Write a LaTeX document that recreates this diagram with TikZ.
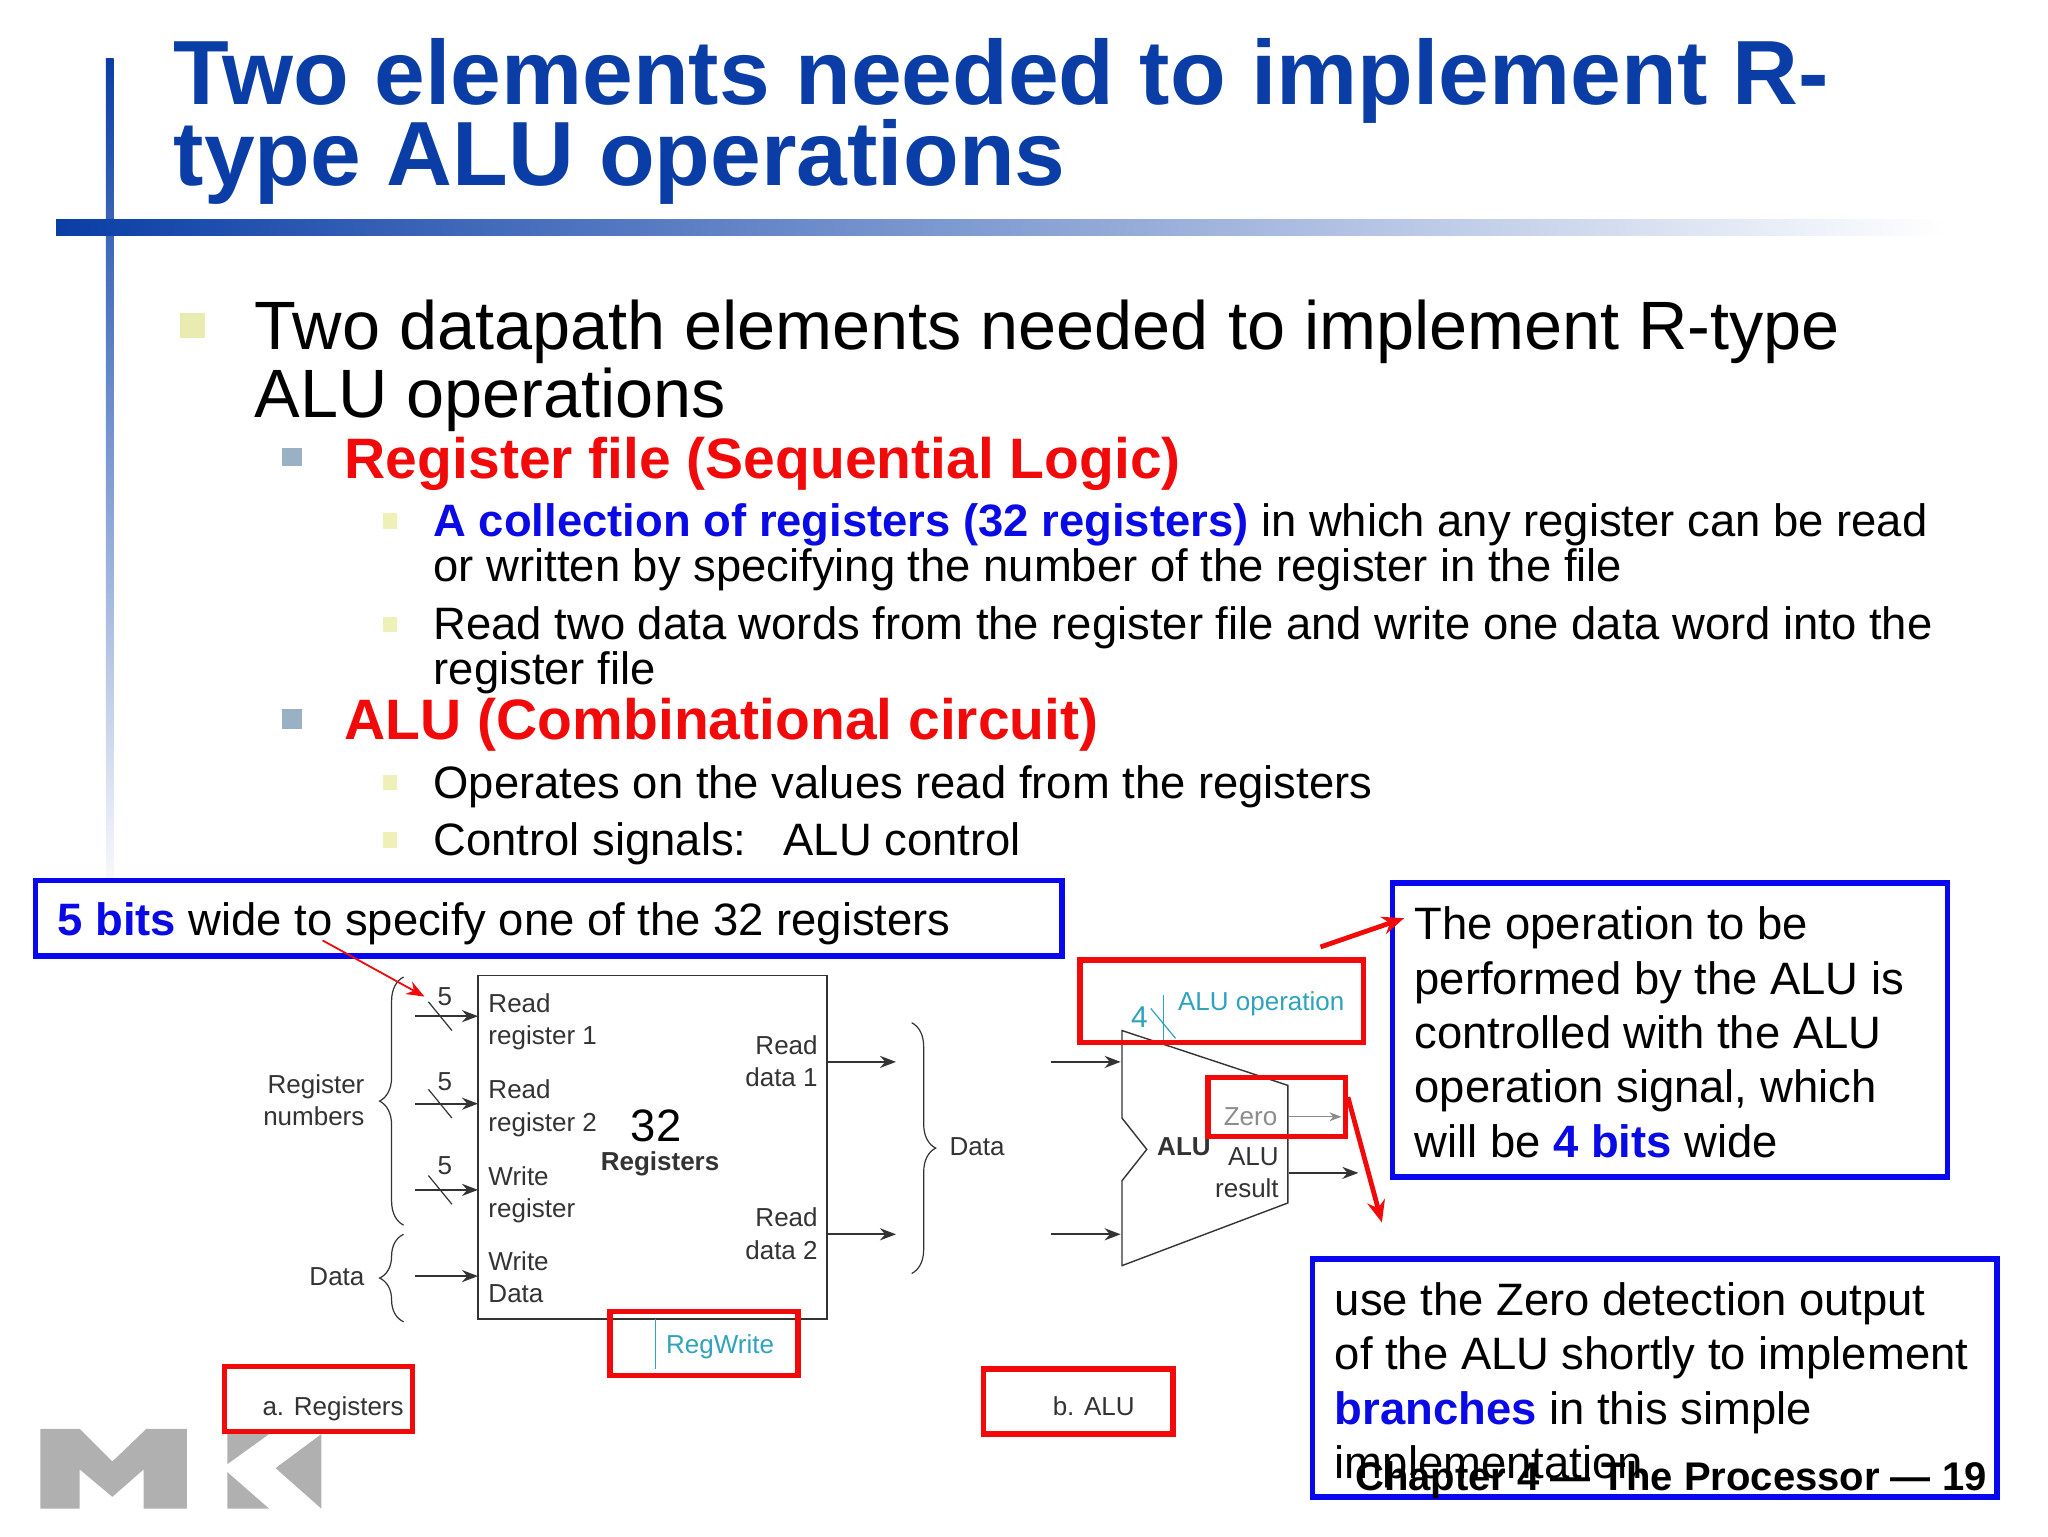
\documentclass[tikz,border=0pt]{standalone}
\usepackage{fontspec}
\setmainfont{Liberation Sans}
\usetikzlibrary{arrows.meta,decorations.pathreplacing,calc}
\definecolor{titleblue}{HTML}{0A3EA6}
\definecolor{vivblue}{HTML}{0A0AE6}
\definecolor{boxblue}{HTML}{0808F0}
\definecolor{vivred}{HTML}{F20A0A}
\definecolor{teal1}{HTML}{2FA3BD}
\definecolor{dark}{HTML}{333333}
\definecolor{bulA}{HTML}{E9EBB0}
\definecolor{bulB}{HTML}{9AB0C4}
\definecolor{bulC}{HTML}{EEF0B8}
\definecolor{logo}{HTML}{B0B0B0}
\newcommand{\fs}[2]{\fontsize{#1}{#2}\selectfont}
\newcommand{\bl}[1]{\textcolor{vivblue}{\textbf{#1}}}
\newcommand{\titlefnt}{\setlength{\lineskiplimit}{-30pt}\fs{45.6}{40.5}\bfseries}
\tikzset{
  txt/.style={inner sep=0pt,outer sep=0pt,anchor=base west,align=left},
  txtr/.style={inner sep=0pt,outer sep=0pt,anchor=base east,align=right},
  titletxt/.style={txt,text=titleblue,font=\titlefnt},
  lone/.style={txt,font=\fs{34.2}{34}},
  ltwo/.style={txt,text=vivred,font=\fs{28.5}{30}\bfseries},
  lthree/.style={txt,font=\fs{22.7}{22.5}},
  call/.style={txt,font=\fs{22.7}{27.2}},
  small/.style={txt,font=\fs{13}{16.1},text=dark},
  smallr/.style={txtr,font=\fs{13}{16.1},text=dark},
  bluebox/.style={draw=boxblue,line width=2.7pt},
  redbox/.style={draw=vivred,line width=2.7pt},
  wire/.style={draw=dark,line width=1.1pt,-{Stealth[length=8pt,width=6pt]}},
  slash/.style={draw=dark,line width=0.6pt},
  bracestyle/.style={draw=dark,line width=0.6pt,decorate},
  redthin/.style={draw=vivred,line width=0.9pt,-{Stealth[length=9pt,width=7pt]}},
  redthick/.style={draw=vivred,line width=2.4pt,-{Stealth[length=11pt,width=9pt]}},
}
\begin{document}
\begin{tikzpicture}[x=0.65306pt,y=-0.65306pt]
\useasboundingbox (0,0) rectangle (1568,1176);
\fill[white] (0,0) rectangle (1568,1176);
% decoration bars
\shade[top color=titleblue,bottom color=titleblue!3] (81,45) rectangle (87,675);
\shade[left color=titleblue,right color=white] (43,168) rectangle (1490,180);
% title
\node[titletxt] (title) at (133,142) {Two elements needed to implement R-\\type ALU operations};
% bullets
\fill[bulA] (138,240) rectangle (157,259);
\fill[bulB] (216,343) rectangle (231,357);
\fill[bulB] (216,543) rectangle (231,558);
\foreach \yy in {393,472,593,637} \fill[bulC] (293,\yy) rectangle (304,\yy+12);
% body
\node[lone] (b1) at (195,320) {Two datapath elements needed to implement R-type\\ALU operations};
\node[ltwo] (b2) at (264,366) {Register file (Sequential Logic)};
\node[lthree] (b3) at (332,445) {\bl{A collection of registers (32 registers)} in which any register can be read\\or written by specifying the number of the register in the file};
\node[lthree] (b4) at (332,524) {Read two data words from the register file and write one data word into the\\register file};
\node[ltwo] (b5) at (264,566) {ALU (Combinational circuit)};
\node[lthree] (b6) at (332,611) {Operates on the values read from the registers};
\node[lthree] (b7) at (332,655) {Control signals:\hspace{0.82em}ALU control};
% 5 bits box
\draw[bluebox] (27,674) rectangle (813,732);
\node[lthree] (fivebits) at (44,716) {\bl{5 bits} wide to specify one of the 32 registers};
% register file
\node[draw=dark,line width=0.8pt,inner sep=0pt,outer sep=0pt,anchor=north west,minimum width=174.4pt,minimum height=171.8pt] (rf) at (366,747) {};
\node[small] (r1) at (374,800) {Read\\register 1};
\node[small] (r2) at (374,866) {Read\\register 2};
\node[small] (r3) at (374,932) {Write\\register};
\node[small] (r4) at (374,997) {Write\\Data};
\node[smallr] (d1) at (626,832) {Read\\data 1};
\node[smallr] (d2) at (626,964) {Read\\data 2};
\node[txt,font=\fs{22.7}{24}] (n32) at (483,874) {32};
\node[txt,font=\fs{13}{16}\bfseries,text=dark] (regs) at (460,896) {Registers};
% wires into the register file
\foreach \nn/\yy in {a/778,b/845,c/911,d/977}{
  \coordinate (in\nn) at (318,\yy);
  \draw[wire] (in\nn) -- (in\nn-|rf.west);
}
\foreach \nn in {a,b,c}{
  \draw[slash] ($(in\nn)+(10,-11)$) -- ($(in\nn)+(28,11)$);
}
\node[small] (fa) at (335,770) {5};
\node[small] (fb) at (335,835) {5};
\node[small] (fc) at (335,899) {5};
% outputs
\coordinate (o1) at (686,813);
\coordinate (o2) at (686,945);
\draw[wire] (o1-|rf.east) -- (o1);
\draw[wire] (o2-|rf.east) -- (o2);
% braces
\draw[bracestyle,decoration={brace,amplitude=12pt}] (309,938) -- (309,748);
\draw[bracestyle,decoration={brace,amplitude=12pt}] (309,1012) -- (309,945);
\draw[bracestyle,decoration={brace,amplitude=12pt}] (698,783) -- (698,975);
\node[smallr] (rn) at (279,862) {Register\\numbers};
\node[smallr] (dl) at (279,984) {Data};
\node[small] (dr) at (727,885) {Data};
% RegWrite
\coordinate (rw) at (502,1048);
\draw[teal1,line width=0.7pt] (rw|-rf.south) -- (rw);
\node[txt,font=\fs{13}{16},text=teal1] (rwt) at (510,1036) {RegWrite};
\draw[redbox] (467,1004) rectangle (611,1053);
% captions
\node[small] (capa) at (201,1084) {a. Registers};
\draw[redbox] (172,1046) rectangle (316,1096);
\node[small] (capb) at (806,1084) {b. ALU};
\draw[redbox] (753,1048) rectangle (898,1098);
% logo
\fill[logo] (31,1094) -- (61,1094) -- (86,1119) -- (112,1094) -- (143,1094) -- (143,1155) -- (110,1155) -- (110,1125) -- (86,1146) -- (61,1125) -- (61,1155) -- (31,1155) -- cycle;
\fill[logo] (174,1098) -- (206,1098) -- (174,1121) -- cycle;
\fill[logo] (174,1127) -- (206,1155) -- (174,1155) -- cycle;
\fill[logo] (246,1098) -- (246,1155) -- (211,1124) -- cycle;
% ALU
\draw[dark,line width=0.7pt,fill=white] (859,789) -- (986,831) -- (986,921) -- (859,969) -- (859,904) -- (878,880) -- (859,856) -- cycle;
\coordinate (alutop) at (891,799);
\coordinate (alutip) at (891,762);
\draw[teal1,line width=0.7pt] (alutop) -- (alutip);
\draw[teal1,line width=0.6pt] (881,772) -- (900,795);
\node[txt,font=\fs{15}{16},text=teal1] (four) at (866,787) {4};
\node[txt,font=\fs{13}{16},text=teal1] (aluop) at (902,774) {ALU operation};
\draw[wire] (805,813) -- (858,813);
\draw[wire] (805,945) -- (858,945);
\node[small,font=\fs{13}{16}\bfseries] (alub) at (886,885) {ALU};
\node[smallr] (alur) at (979,917) {ALU\\result};
\node[txt,font=\fs{13}{16},text=black!45] (zero) at (937,862) {Zero};
\draw[black!45,line width=0.7pt,-{Stealth[length=6pt,width=4.5pt]}] (987,855) -- (1027,855);
\draw[wire] (987,898) -- (1040,898);
\draw[redbox] (827,735) rectangle (1044,798);
\draw[redbox] (925,825) rectangle (1030,870);
% callouts
\draw[bluebox] (1066,676) rectangle (1491,901);
\node[call] (c1) at (1083,886) {The operation to be\\performed by the ALU is\\controlled with the ALU\\operation signal, which\\will be \bl{4 bits} wide};
\draw[bluebox] (1005,964) rectangle (1529,1146);
\node[call] (c2) at (1022,1132) {use the Zero detection output\\of the ALU shortly to implement\\\bl{branches} in this simple\\implementation};
\node[txtr,font=\fs{20}{24}\bfseries,text=black] (foot) at (1521,1141) {Chapter 4 — The Processor — 19};
% red pointers
\coordinate (p1a) at (247,720);
\coordinate (p1b) at (325,763);
\draw[redthin] (p1a) -- (p1b);
\coordinate (p2a) at (1011,725);
\coordinate (p2b) at (1075,703);
\draw[redthick] (p2a) -- (p2b);
\coordinate (p3a) at (1032,840);
\coordinate (p3b) at (1058,936);
\draw[redthick] (p3a) -- (p3b);
\end{tikzpicture}
\end{document}
